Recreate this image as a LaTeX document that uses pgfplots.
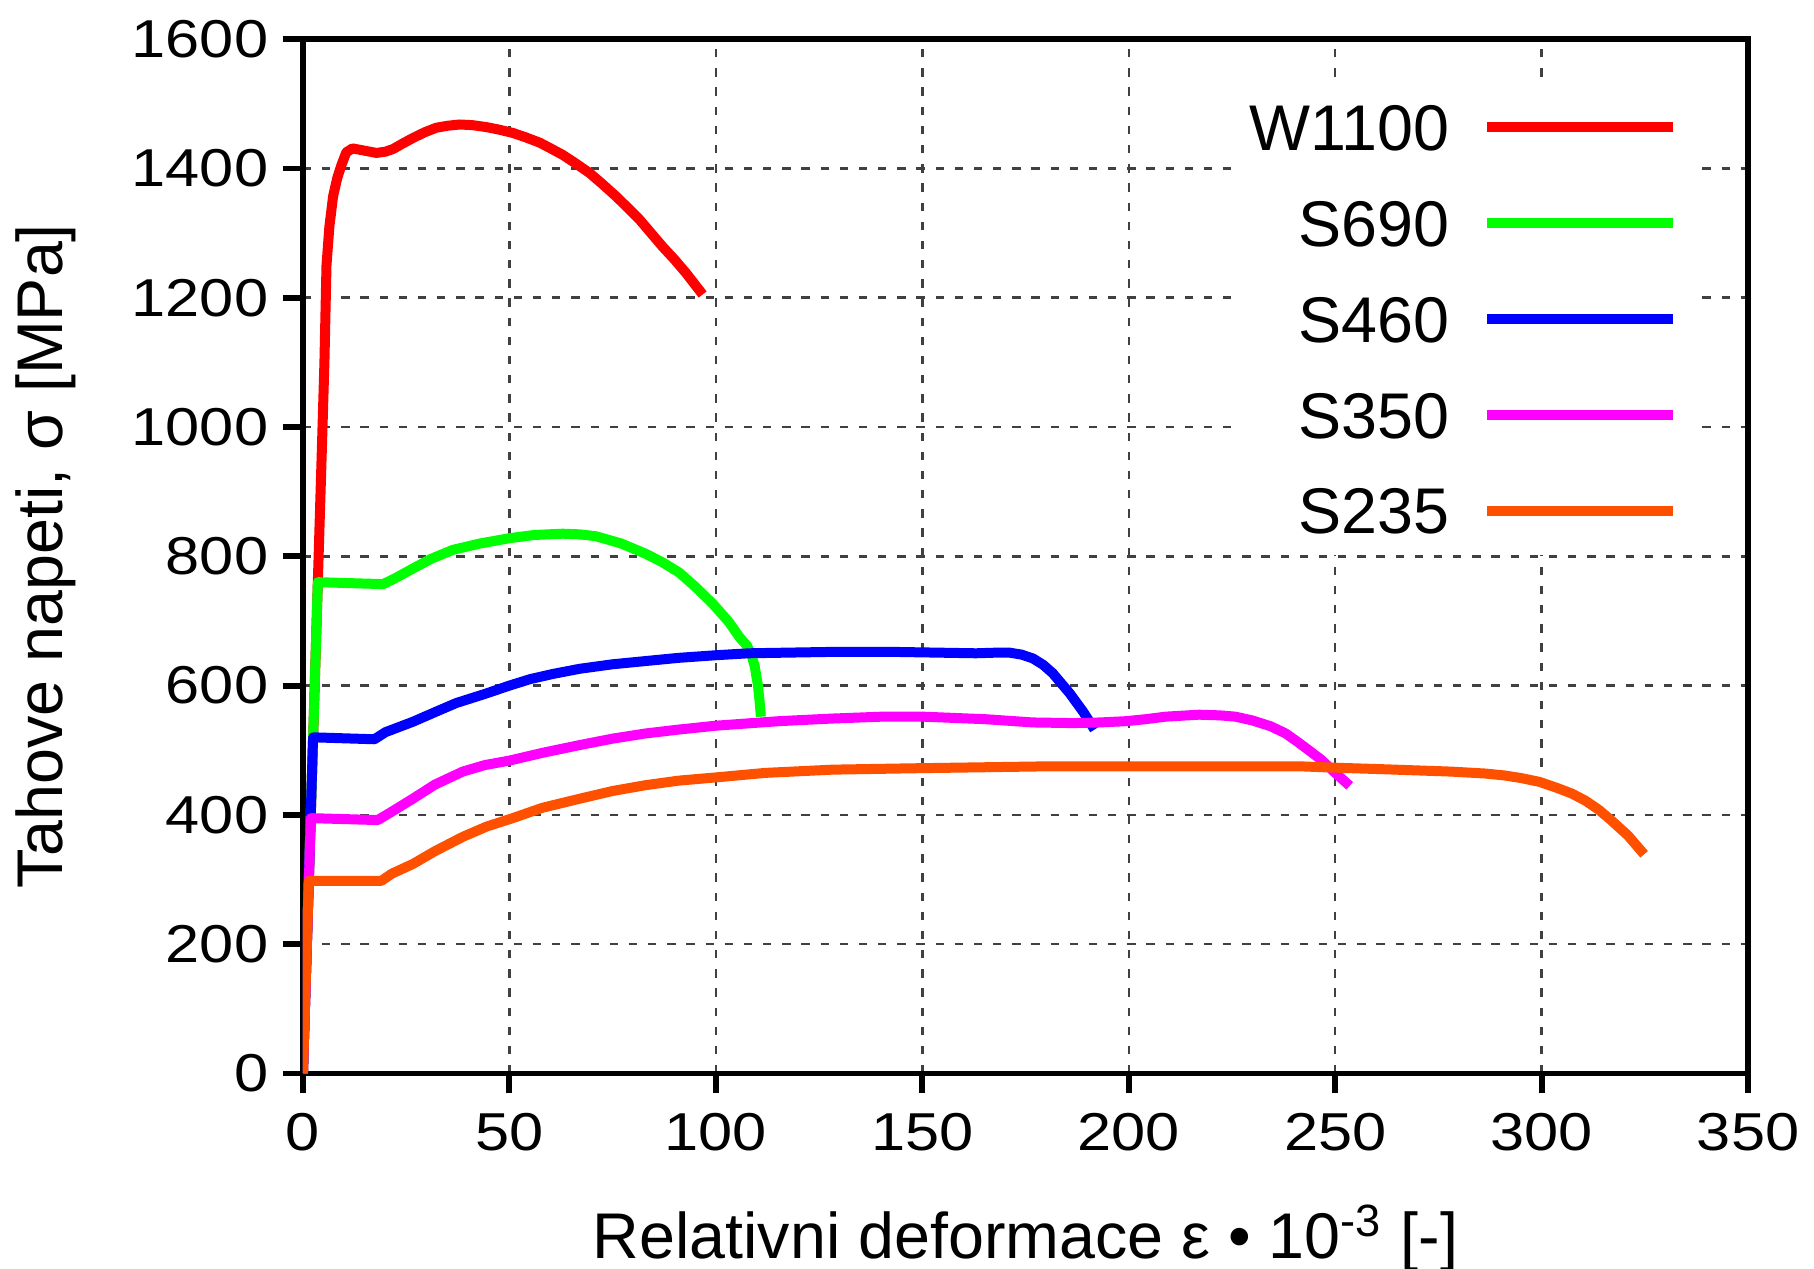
\documentclass[border=0pt]{standalone}
\usepackage{fontspec}
\setmainfont{Liberation Sans}
\newfontfamily\tickfont[FakeStretch=1.15]{Liberation Sans}
\usepackage{pgfplots}
\pgfplotsset{compat=1.18}
\definecolor{cOrange}{RGB}{255,80,0}
\definecolor{cGreen}{RGB}{0,255,0}
\definecolor{cBlue}{RGB}{0,0,255}
\definecolor{cMag}{RGB}{255,0,255}
\definecolor{cRed}{RGB}{255,0,0}
\begin{document}
\begin{tikzpicture}
\begin{axis}[
  name=ax, at={(0,0)}, anchor=south west,
  scale only axis, width=346.8pt, height=248.2pt,
  xmin=0, xmax=350, ymin=0, ymax=1600,
  xtick={0,50,...,350}, ytick={0,200,...,1600},
  xtick pos=left, ytick pos=left,
  tick align=outside, major tick length=4.8pt,
  every tick/.style={black, line width=1.4pt},
  axis line style={line width=1.4pt},
  grid=major,
  major grid style={line width=0.6pt, black!75, dash pattern=on 2pt off 2.6pt},
  /pgf/number format/assume math mode=true,
  /pgf/number format/1000 sep={},
  ticklabel style={font=\tickfont\fontsize{12.8}{14}\selectfont},
  xticklabel style={yshift=-1.2pt},
  xlabel={Relativni deformace ε • 10\textsuperscript{-3} [-]},
  xlabel style={font=\fontsize{15.5}{18}\selectfont, at={(axis description cs:0.5,-0.1789)}, anchor=base},
  ylabel={Tahove napeti, σ [MPa]},
  ylabel style={font=\fontsize{15.5}{18}\selectfont, at={(axis description cs:-0.1779,0.5)}, anchor=center},
  legend style={draw=none, fill=white, at={(0.9635,0.958)}, anchor=north east,
    inner xsep=4pt, inner ysep=5pt, row sep=11.9pt, column sep=7.8pt,
    nodes={inner sep=0pt, text height=11.1pt, text depth=0pt, font=\fontsize{15.5}{18}\selectfont}},
  legend cell align=right, legend plot pos=right,
  legend image code/.code={\draw[#1] (0pt,0pt) -- (44.6pt,0pt);},
  every axis plot/.append style={line width=2.4pt, line join=round},
]
\addplot[color=cRed] coordinates {
(0,0) (4.6,970) (5.2,1100) (5.7,1250) (6.4,1310) (7.3,1357) (8.3,1385) (9.3,1405)
(10.5,1425) (12.0,1431) (14.5,1428) (17.8,1424) (20,1426) (21.8,1430) (24,1438) (26.6,1447) (29.5,1456) (32.3,1463)
(35,1466) (37.9,1468) (41,1467) (44.4,1464) (47.5,1460) (50.8,1455) (54,1448) (57.3,1440) (60,1431) (62.9,1421) (66,1408) (69.4,1393) (72.5,1376) (75.8,1357)
(78.7,1339) (81.5,1321) (84.3,1300) (87.1,1279) (90,1259) (92.8,1238) (96.8,1205)};
\addlegendentry{W1100}
\addplot[color=cGreen] coordinates {
(0,0) (3.6,760) (19.4,757) (22,765) (26.6,781) (31,796) (36.3,810) (43,820) (50,828) (56,833) (62.9,835) (67,834) (71,831)
(77,820) (83,804) (87,791) (91.1,775) (95,753) (99.2,727) (103.2,698) (105.7,675) (107.5,662) (108.5,650) (109.4,630)
(110.2,600) (110.6,575) (110.9,552)};
\addlegendentry{S690}
\addplot[color=cBlue] coordinates {
(0,0) (2.45,520) (17.3,517) (20,528) (26.6,544) (32,559) (37.1,573) (44,587) (50,600) (55,610) (60.5,618) (67,626) (75,633)
(83,638) (91.1,643) (100,647) (108,650) (126.7,652) (144.4,652) (163,650) (168,651) (171.1,651) (174,648) (176.8,642) (179.3,632)
(181.6,619) (185.7,588) (188.9,560) (191.7,532)};
\addlegendentry{S460}
\addplot[color=cMag] coordinates {
(0,0) (1.9,395) (18.1,392) (21,403) (26.6,425) (32,447) (38.7,467) (44,477) (50,484) (58,496) (67,508) (75,518) (83,526)
(91,532) (100,538) (115.3,545) (128,549) (140.4,552) (150,552) (165.4,548) (176.8,543) (186.5,542)
(193,543) (199.4,545) (204,548) (209,552) (217,555) (222,554) (225.8,552) (230,546) (234.4,537) (238,526) (241.3,511) (246.5,486)
(250,465) (253.5,445)};
\addlegendentry{S350}
\addplot[color=cOrange] coordinates {
(0,0) (1.42,298) (19,298) (21.5,309) (26.6,324) (32,344) (38.7,366) (44.5,382) (50.8,395) (58,411) (67,425) (75,437) (83,446)
(91,453) (100,458) (112,465) (128.3,470) (146.8,472) (179,475) (200,475) (222,475) (242,475)
(250,473) (260,471) (269,469) (278,467) (286.3,464) (291,461) (295,457) (299.5,451) (303.6,442) (307.3,433) (310.6,422) (313.8,408) (316.6,393)
(320.9,368) (324.8,339)};
\addlegendentry{S235}
\end{axis}
\pgfresetboundingbox
\path (-72.7pt,-46.8pt) rectangle (362.6pt,257.6pt);
\end{tikzpicture}
\end{document}
